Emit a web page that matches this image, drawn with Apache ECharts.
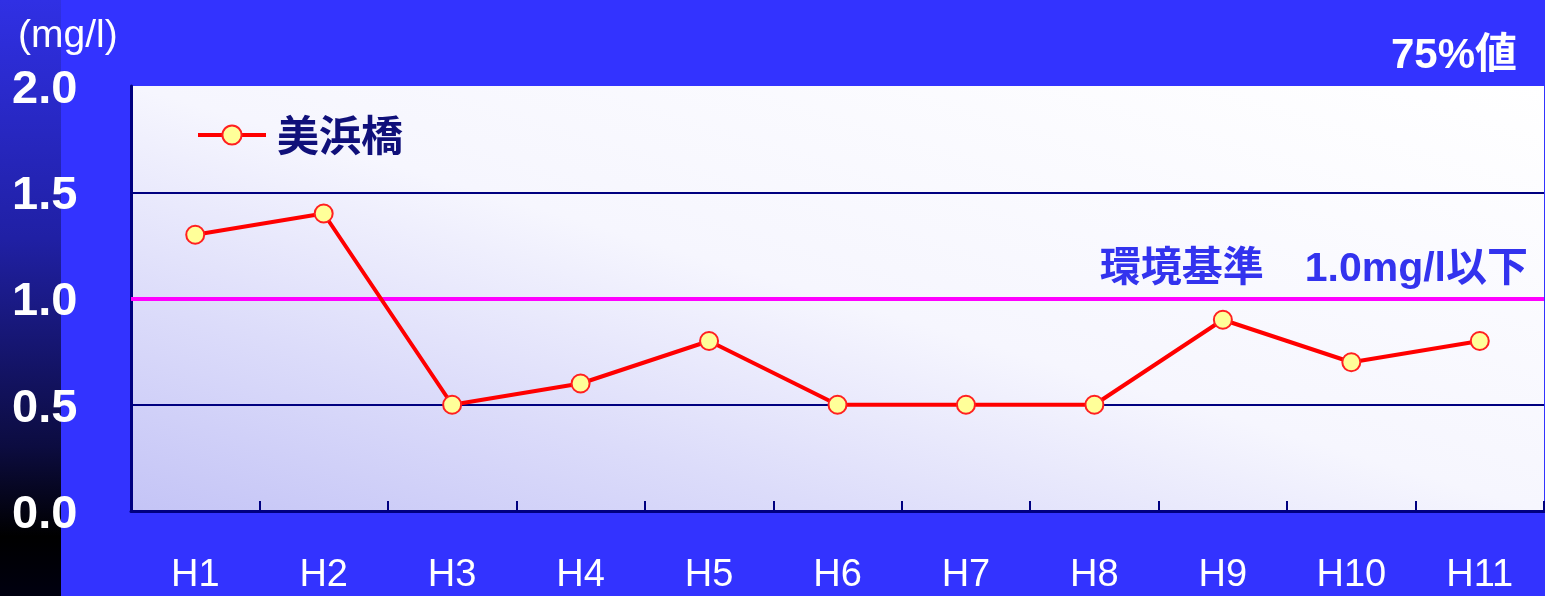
<!DOCTYPE html>
<html lang="ja">

<head>
  <meta charset="UTF-8" />
  <title>美浜橋 75%値</title>
  <script src="https://cdn.jsdelivr.net/npm/echarts@6/dist/echarts.min.js"></script>
</head>

<body style="margin: 0; overflow: hidden;">
  <div id="panel" style="width: 1545px; height: 596px;"></div>
  <script>
    // data
    var categories = ['H1', 'H2', 'H3', 'H4', 'H5', 'H6', 'H7', 'H8', 'H9', 'H10', 'H11'];
    var mihamaValues = [1.3, 1.4, 0.5, 0.6, 0.8, 0.5, 0.5, 0.5, 0.9, 0.7, 0.8];
    var standardValue = 1.0;
    var seriesName = '美浜橋';
    var standardLabel = '環境基準　1.0mg/l以下';

    var latin = "'Liberation Sans', Arial, 'Noto Sans CJK JP', sans-serif";
    var navy = '#000080';

    var myChart = echarts.init(document.getElementById('panel'));

    var option = {
      backgroundColor: '#3333ff',
      animation: false,
      textStyle: { fontFamily: latin },
      graphic: [
        {
          type: 'rect',
          z: -1,
          shape: { x: 0, y: 0, width: 61, height: 596 },
          style: {
            fill: {
              type: 'linear', x: 0, y: 0, x2: 0, y2: 1,
              colorStops: [
                { offset: 0, color: '#3030e4' },
                { offset: 0.4, color: '#2020a4' },
                { offset: 0.75, color: '#0c0c40' },
                { offset: 0.9, color: '#000000' },
                { offset: 1, color: '#000010' }
              ]
            }
          }
        }
      ],
      title: [
        {
          text: '(mg/l)',
          left: 13,
          top: 12,
          textStyle: { color: '#ffffff', fontSize: 39, fontWeight: 'normal', fontFamily: latin }
        },
        {
          text: '75%値',
          right: 23,
          top: 30,
          textStyle: { color: '#ffffff', fontSize: 42, fontWeight: 'bold', fontFamily: latin }
        }
      ],
      legend: {
        left: 191,
        top: 109,
        itemWidth: 68,
        itemHeight: 24,
        itemStyle: { color: '#ffff99', borderColor: '#ff2020', borderWidth: 2 },
        lineStyle: { color: '#ff0000', width: 4 },
        textStyle: {
          color: '#10107a',
          fontSize: 42,
          fontWeight: 'bold',
          fontFamily: "'Noto Sans CJK JP', sans-serif",
          padding: [0, 0, 0, 6]
        },
        data: [seriesName]
      },
      grid: {
        left: 131,
        right: 1,
        top: 86,
        bottom: 85,
        show: true,
        borderWidth: 0,
        // light from the top right corner, lavender toward the bottom left
        backgroundColor: {
          type: 'linear', global: true,
          x: 1545, y: 86, x2: 1310, y2: 866,
          colorStops: [
            { offset: 0, color: '#ffffff' },
            { offset: 0.5, color: '#f6f6fe' },
            { offset: 0.75, color: '#dcdcfa' },
            { offset: 1, color: '#c4c4f6' }
          ]
        }
      },
      xAxis: {
        type: 'category',
        data: categories,
        boundaryGap: true,
        axisLine: { lineStyle: { color: navy, width: 3 } },
        axisTick: { show: true, inside: true, length: 10, lineStyle: { color: navy, width: 2 } },
        axisLabel: {
          color: '#ffffff',
          fontSize: 38,
          margin: 46,
          fontFamily: latin
        },
        splitLine: { show: false }
      },
      yAxis: {
        type: 'value',
        min: 0,
        max: 2,
        interval: 0.5,
        axisLine: { show: true, lineStyle: { color: navy, width: 3 } },
        axisTick: { show: false },
        axisLabel: {
          color: '#ffffff',
          fontSize: 47,
          fontWeight: 'bold',
          align: 'left',
          verticalAlign: 'top',
          lineHeight: 8,
          margin: 119,
          fontFamily: latin,
          formatter: function (v) { return v.toFixed(1); }
        },
        splitLine: {
          show: true,
          lineStyle: {
            color: ['rgba(0,0,0,0)', navy, navy, navy, 'rgba(0,0,0,0)'],
            width: 2
          }
        }
      },
      series: [
        {
          name: seriesName,
          type: 'line',
          data: mihamaValues,
          symbol: 'circle',
          symbolSize: 18,
          lineStyle: { color: '#ff0000', width: 4 },
          itemStyle: { color: '#ffff99', borderColor: '#ff2020', borderWidth: 2 },
          z: 5,
          markLine: {
            silent: true,
            symbol: ['none', 'none'],
            lineStyle: { color: '#ff00ff', width: 4, type: 'solid' },
            label: {
              show: true,
              position: 'insideEndTop',
              formatter: standardLabel,
              color: '#3333ee',
              fontSize: 41,
              fontWeight: 'bold',
              fontFamily: latin,
              distance: [16, 8]
            },
            data: [{ yAxis: standardValue }]
          }
        }
      ]
    };

    myChart.setOption(option);

    window.addEventListener('resize', function () {
      myChart.resize();
    });
  </script>
</body>

</html>
